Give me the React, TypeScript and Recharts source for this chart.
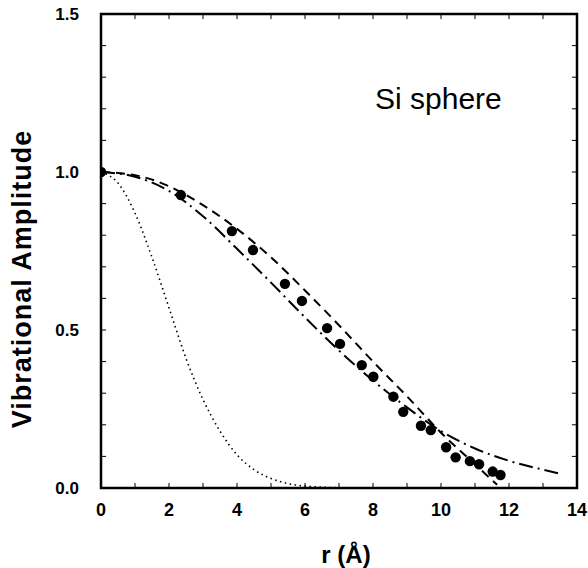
import React from "react";
import {
  ComposedChart,
  Line,
  Scatter,
  XAxis,
  YAxis,
  ReferenceArea,
  ReferenceLine,
  ReferenceDot,
} from "recharts";

// Measured points (filled circles)
const DOT_R = [0, 2.35, 3.85, 4.47, 5.41, 5.91, 6.65, 7.03, 7.67, 8.01, 8.6, 8.89, 9.41, 9.7, 10.15, 10.43, 10.85, 11.12, 11.52, 11.75];
const DOT_AMP = [1.0, 0.927, 0.813, 0.753, 0.646, 0.592, 0.506, 0.456, 0.389, 0.352, 0.289, 0.241, 0.197, 0.183, 0.129, 0.097, 0.085, 0.075, 0.052, 0.041];

// Dashed curve
const DASH_R = [0, 1, 2, 3, 4, 5, 6, 7, 8, 9, 10, 11, 11.65];
const DASH_AMP = [1.0, 0.99, 0.955, 0.895, 0.82, 0.73, 0.625, 0.515, 0.4, 0.29, 0.175, 0.075, 0.01];

// Dash-dot curve
const DASHDOT_R = [0, 1, 2, 3, 4, 5, 6, 7, 8, 9, 10, 11, 12, 13, 13.5];
const DASHDOT_AMP = [1.0, 0.985, 0.94, 0.86, 0.757, 0.65, 0.54, 0.435, 0.34, 0.255, 0.18, 0.125, 0.086, 0.058, 0.045];

// Dotted curve
const DOTTED_R = [0, 0.5, 1, 1.5, 2, 2.5, 3, 3.5, 4, 4.5, 5, 5.5, 6, 7, 8, 9, 10, 11, 11.8];
const DOTTED_AMP = [1.0, 0.965, 0.87, 0.73, 0.57, 0.41, 0.28, 0.18, 0.105, 0.058, 0.03, 0.014, 0.006, 0.001, 0, 0, 0, 0, 0];

const X_LABELS = [0, 2, 4, 6, 8, 10, 12, 14];
const Y_LABELS = [0, 0.5, 1.0, 1.5];
const X_MINOR = [1, 2, 3, 4, 5, 6, 7, 8, 9, 10, 11, 12, 13];
const Y_MINOR = [0.1, 0.2, 0.3, 0.4, 0.5, 0.6, 0.7, 0.8, 0.9, 1.0, 1.1, 1.2, 1.3, 1.4];

const zip = (xs: number[], ys: number[]) => xs.map((r, i) => ({ r, amp: ys[i] }));

const FONT = "'Liberation Sans', Arial, Helvetica, sans-serif";
const TICK_DX = 0.15; // inward tick length in r units
const TICK_DY = 0.016; // inward tick length in amplitude units

function YTitle({ viewBox }: any) {
  const cx = viewBox.x + 22;
  const cy = viewBox.y + viewBox.height / 2 + 28;
  return (
    <text
      x={cx}
      y={cy}
      transform={`rotate(-90 ${cx} ${cy})`}
      textAnchor="middle"
      dominantBaseline="central"
      fontFamily={FONT}
      fontSize={27}
      fontWeight="bold"
      letterSpacing={1}
      fill="#000"
    >
      Vibrational Amplitude
    </text>
  );
}

function XTitle({ viewBox }: any) {
  const cx = viewBox.x + viewBox.width / 2 + 7;
  return (
    <text x={cx} y={viewBox.y + 75} textAnchor="middle" fontFamily={FONT} fontSize={24} fontWeight="bold" fill="#000">
      r (Å)
    </text>
  );
}

function Note({ viewBox }: any) {
  return (
    <text x={viewBox.x} y={viewBox.y} fontFamily={FONT} fontSize={30} fill="#000">
      Si sphere
    </text>
  );
}

export default function App() {
  return (
    <div style={{ position: "absolute", left: 0, top: 0, background: "#fff" }}>
      <ComposedChart width={588} height={568} margin={{ top: 14, right: 11, bottom: 0, left: 0 }}>
        <XAxis
          type="number"
          dataKey="r"
          domain={[0, 14]}
          ticks={X_LABELS}
          allowDataOverflow
          tickLine={false}
          axisLine={false}
          tickSize={0}
          tickMargin={15}
          height={80}
          tick={{ fill: "#000", fontSize: 18, fontWeight: "bold", fontFamily: FONT }}
          label={{ content: <XTitle /> }}
        />
        <YAxis
          type="number"
          dataKey="amp"
          domain={[0, 1.5]}
          ticks={Y_LABELS}
          allowDataOverflow
          tickLine={false}
          axisLine={false}
          tickSize={0}
          tickMargin={22}
          width={101}
          tickFormatter={(v: number) => v.toFixed(1)}
          tick={{ fill: "#000", fontSize: 17, fontWeight: "bold", fontFamily: FONT }}
          label={{ content: <YTitle /> }}
        />

        {X_MINOR.map((v) => (
          <ReferenceLine key={`xb${v}`} segment={[{ x: v, y: 0 }, { x: v, y: TICK_DY }]} stroke="#000" strokeWidth={1} />
        ))}
        {X_MINOR.map((v) => (
          <ReferenceLine key={`xt${v}`} segment={[{ x: v, y: 1.5 }, { x: v, y: 1.5 - TICK_DY }]} stroke="#000" strokeWidth={1} />
        ))}
        {Y_MINOR.map((v) => (
          <ReferenceLine key={`yl${v}`} segment={[{ x: 0, y: v }, { x: TICK_DX, y: v }]} stroke="#000" strokeWidth={1} />
        ))}
        {Y_MINOR.map((v) => (
          <ReferenceLine key={`yr${v}`} segment={[{ x: 14, y: v }, { x: 14 - TICK_DX, y: v }]} stroke="#000" strokeWidth={1} />
        ))}

        <Line
          data={zip(DOTTED_R, DOTTED_AMP)}
          dataKey="amp"
          type="monotone"
          stroke="#000"
          strokeWidth={1.6}
          strokeDasharray="1.5 3.5"
          dot={false}
          isAnimationActive={false}
        />
        <Line
          data={zip(DASH_R, DASH_AMP)}
          dataKey="amp"
          type="monotone"
          stroke="#000"
          strokeWidth={2}
          strokeDasharray="9 6"
          dot={false}
          isAnimationActive={false}
        />
        <Line
          data={zip(DASHDOT_R, DASHDOT_AMP)}
          dataKey="amp"
          type="monotone"
          stroke="#000"
          strokeWidth={2}
          strokeDasharray="14 5 2 5"
          dot={false}
          isAnimationActive={false}
        />
        <Scatter
          data={zip(DOT_R, DOT_AMP)}
          dataKey="amp"
          fill="#000"
          shape={(p: any) => <circle cx={p.cx} cy={p.cy} r={5.2} fill="#000" />}
          isAnimationActive={false}
        />

        <ReferenceArea x1={0} x2={14} y1={0} y2={1.5} fill="none" stroke="#000" strokeWidth={2.5} />
        <ReferenceDot x={8.06} y={1.2} r={0} stroke="none" label={{ content: <Note /> }} />
      </ComposedChart>
    </div>
  );
}
